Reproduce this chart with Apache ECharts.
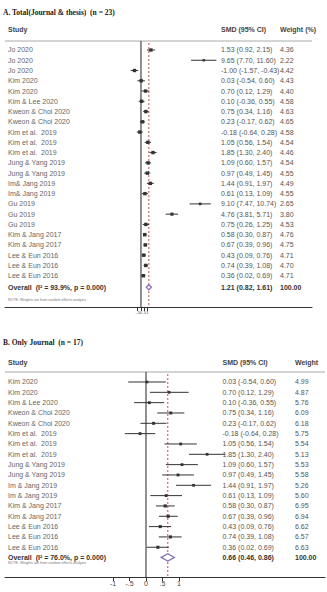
<!DOCTYPE html>
<html><head><meta charset="utf-8">
<script src="https://cdn.jsdelivr.net/npm/echarts@6/dist/echarts.min.js"></script>
<style>html,body{margin:0;padding:0;background:#fff}#c{width:327px;height:592px}</style>
</head><body><div id="c"></div>
<script>
// ---------- Panel A data ----------
const studiesA = ["Jo 2020","Jo 2020","Jo 2020","Kim 2020","Kim 2020","Kim & Lee 2020","Kweon & Choi 2020","Kweon & Choi 2020","Kim et al.  2019","Kim et al.  2019","Kim et al.  2019","Jung & Yang 2019","Jung & Yang 2019","Im& Jang 2019","Im& Jang 2019","Gu 2019","Gu 2019","Gu 2019","Kim & Jang 2017","Kim & Jang 2017","Lee & Eun 2016","Lee & Eun 2016","Lee & Eun 2016"];
const smdA   = [1.53, 9.65, -1.00, 0.03, 0.70, 0.10, 0.75, 0.23, -0.18, 1.05, 1.85, 1.09, 0.97, 1.44, 0.61, 9.10, 4.76, 0.75, 0.58, 0.67, 0.43, 0.74, 0.36];
const lowA   = [0.92, 7.70, -1.57, -0.54, 0.12, -0.36, 0.34, -0.17, -0.64, 0.56, 1.30, 0.60, 0.49, 0.91, 0.13, 7.47, 3.81, 0.26, 0.30, 0.39, 0.09, 0.39, 0.02];
const highA  = [2.15, 11.60, -0.43, 0.60, 1.29, 0.55, 1.16, 0.62, 0.28, 1.54, 2.40, 1.57, 1.45, 1.97, 1.09, 10.74, 5.71, 1.25, 0.87, 0.96, 0.76, 1.08, 0.69];
const weightA= [4.36, 2.22, 4.42, 4.43, 4.40, 4.58, 4.63, 4.65, 4.58, 4.54, 4.46, 4.54, 4.55, 4.49, 4.55, 2.65, 3.80, 4.53, 4.76, 4.75, 4.71, 4.70, 4.71];
const overallA = [1.21, 0.82, 1.61, 100.00];
const hetA = ["93.9%", "0.000"];

// ---------- Panel B data ----------
const studiesB = ["Kim 2020","Kim 2020","Kim & Lee 2020","Kweon & Choi 2020","Kweon & Choi 2020","Kim et al.  2019","Kim et al.  2019","Kim et al.  2019","Jung & Yang 2019","Jung & Yang 2019","Im & Jang 2019","Im & Jang 2019","Kim & Jang 2017","Kim & Jang 2017","Lee & Eun 2016","Lee & Eun 2016","Lee & Eun 2016"];
const smdB   = [0.03, 0.70, 0.10, 0.75, 0.23, -0.18, 1.05, 1.85, 1.09, 0.97, 1.44, 0.61, 0.58, 0.67, 0.43, 0.74, 0.36];
const lowB   = [-0.54, 0.12, -0.36, 0.34, -0.17, -0.64, 0.56, 1.30, 0.60, 0.49, 0.91, 0.13, 0.30, 0.39, 0.09, 0.39, 0.02];
const highB  = [0.60, 1.29, 0.55, 1.16, 0.62, 0.28, 1.54, 2.40, 1.57, 1.45, 1.97, 1.09, 0.87, 0.96, 0.76, 1.08, 0.69];
const weightB= [4.99, 4.87, 5.76, 6.09, 6.18, 5.75, 5.54, 5.13, 5.53, 5.58, 5.26, 5.60, 6.95, 6.94, 6.62, 6.57, 6.63];
const overallB = [0.66, 0.46, 0.86, 100.00];
const hetB = ["76.0%", "0.000"];

// ---------- Axis ticks ----------
const tickValues = [-1, -0.5, 0, 0.5, 1];
const tickLabels = ["-1", "-.5", "0", ".5", "1"];

// ---------- layout ----------
const L = {
  A: {grid:{left:5, top:41, width:307, height:266}, xmin:-20.92, xmax:26.31, ymin:0.123, ymax:26.05, overallRow:24.13,
      colSmd:221, colW:280, box:1.6, dia:2.6, tickFont:4, noteRow:25.4},
  B: {grid:{left:5, top:372, width:320, height:205}, xmin:-4.27, xmax:5.42, ymin:0.032, ymax:19.88, overallRow:17.98,
      colSmd:222.5, colW:295, box:1.2, dia:3.7, tickFont:7, noteRow:18.5}
};

const f2 = v => v.toFixed(2);
const ciText = (s, l, h) => f2(s) + " (" + f2(l) + ", " + f2(h) + ")";
const sans = "Liberation Sans, Arial, sans-serif";

function panel(key, gi, studies, smd, low, high, weight, overall, het) {
  const c = L[key];
  const rows = smd.map((v, i) => [v, low[i], high[i], weight[i], i + 1]);
  const series = [];
  series.push({
    type: 'custom', xAxisIndex: gi, yAxisIndex: gi, silent: true,
    data: [[0, overall[0]]], encode: {x: [0, 1]},
    renderItem: (p, api) => {
      const z0 = api.coord([api.value(0), c.ymin]);
      const z1 = api.coord([api.value(0), c.ymax]);
      const o0 = api.coord([api.value(1), c.ymin]);
      const o1 = api.coord([api.value(1), c.ymax]);
      return {type: 'group', children: [
        {type: 'line', shape: {x1: z0[0], y1: z0[1], x2: z1[0], y2: z1[1]}, style: {stroke: '#222', lineWidth: 1}},
        {type: 'line', shape: {x1: o0[0], y1: o0[1] + 2, x2: o1[0], y2: o1[1]}, style: {stroke: '#c0504d', lineWidth: 1, lineDash: [2, 2]}}
      ]};
    }
  });
  series.push({
    type: 'custom', xAxisIndex: gi, yAxisIndex: gi,
    data: rows, encode: {x: [0, 1, 2], y: 4},
    renderItem: (p, api) => {
      const y = api.value(4);
      const m = api.coord([api.value(0), y]);
      const lo = api.coord([api.value(1), y]);
      const hi = api.coord([api.value(2), y]);
      const s = c.box * Math.sqrt(api.value(3));
      return {type: 'group', children: [
        {type: 'line', shape: {x1: lo[0], y1: m[1], x2: hi[0], y2: m[1]}, style: {stroke: '#333', lineWidth: 1}},
        {type: 'rect', shape: {x: m[0] - s/2, y: m[1] - s/2, width: s, height: s}, style: {fill: '#333'}}
      ]};
    }
  });
  series.push({
    type: 'custom', xAxisIndex: gi, yAxisIndex: gi,
    data: [[overall[0], overall[1], overall[2], c.overallRow]], encode: {x: [0, 1, 2], y: 3},
    renderItem: (p, api) => {
      const y = api.value(3);
      const m = api.coord([api.value(0), y]);
      const lo = api.coord([api.value(1), y]);
      const hi = api.coord([api.value(2), y]);
      const h = c.dia;
      return {type: 'polygon', shape: {points: [[lo[0], m[1]], [m[0], m[1] - h], [hi[0], m[1]], [m[0], m[1] + h]]},
        style: {fill: '#fff', stroke: '#8a73b8', lineWidth: 1.3}};
    }
  });
  const textRows = rows.map(r => [0, r[4]]);
  series.push({
    type: 'custom', xAxisIndex: gi, yAxisIndex: gi, silent: true,
    data: textRows, encode: {y: 1},
    renderItem: (p, api) => {
      const i = p.dataIndex;
      const y = api.coord([0, api.value(1)])[1];
      const st = {fontSize: 7, fontFamily: sans, fill: '#666', verticalAlign: 'middle'};
      return {type: 'group', children: [
        {type: 'text', x: 8, y: y, style: Object.assign({text: studies[i]}, st)},
        {type: 'text', x: c.colSmd, y: y, style: Object.assign({}, st, {text: ciText(smd[i], low[i], high[i]), fill: '#555'})},
        {type: 'text', x: c.colW, y: y, style: Object.assign({}, st, {text: f2(weight[i]), fill: '#555'})}
      ]};
    }
  });
  series.push({
    type: 'custom', xAxisIndex: gi, yAxisIndex: gi, silent: true,
    data: [[0, c.overallRow, c.noteRow]], encode: {y: 1},
    renderItem: (p, api) => {
      const y = api.coord([0, api.value(1)])[1];
      const yn = api.coord([0, api.value(2)])[1];
      const st = {fontSize: 7, fontFamily: sans, fontWeight: 'bold', fill: '#333', verticalAlign: 'middle'};
      return {type: 'group', children: [
        {type: 'text', x: 8, y: y, style: Object.assign({}, st, {text: "Overall  (I\u00B2 = " + het[0] + ", p = " + het[1] + ")"})},
        {type: 'text', x: c.colSmd, y: y, style: Object.assign({}, st, {text: ciText(overall[0], overall[1], overall[2])})},
        {type: 'text', x: c.colW, y: y, style: Object.assign({}, st, {text: f2(overall[3])})},
        {type: 'text', x: 8, y: yn, style: {text: "NOTE: Weights are from random effects analysis", fontSize: 3.6, fontFamily: sans, fill: '#777', verticalAlign: 'middle'}}
      ]};
    }
  });
  const xAxis = {type: 'value', gridIndex: gi, position: 'bottom', min: c.xmin, max: c.xmax,
     axisLine: {show: true, onZero: false, lineStyle: {color: '#333', width: 1}},
     axisTick: {show: true, length: 4, customValues: tickValues, lineStyle: {color: '#333'}},
     axisLabel: {show: true, customValues: tickValues, fontSize: c.tickFont, fontFamily: sans, color: '#444', margin: 3,
       formatter: v => tickLabels[tickValues.findIndex(t => Math.abs(t - v) < 1e-9)] || ''},
     splitLine: {show: false}};
  const yAxis = {type: 'value', gridIndex: gi, inverse: true, min: c.ymin, max: c.ymax, show: false};
  const g = c.grid;
  const sep = {type: 'line', silent: true, shape: {x1: g.left, y1: g.top, x2: g.left + g.width, y2: g.top}, style: {stroke: '#aaa', lineWidth: 1}};
  return {series, xAxis, yAxis, sep};
}

const pA = panel('A', 0, studiesA, smdA, lowA, highA, weightA, overallA, hetA);
const pB = panel('B', 1, studiesB, smdB, lowB, highB, weightB, overallB, hetB);

const hdr = {fontSize: 7, fontFamily: sans, fontWeight: 'bold', fill: '#444', verticalAlign: 'middle'};
const ttl = {fontSize: 7.5, fontFamily: 'Liberation Serif, Times New Roman, serif', fontWeight: 'bold', fill: '#222', verticalAlign: 'middle'};

const chart = echarts.init(document.getElementById('c'), null, {renderer: 'svg'});
chart.setOption({
  animation: false,
  grid: [Object.assign({show: false}, L.A.grid), Object.assign({show: false}, L.B.grid)],
  xAxis: [pA.xAxis, pB.xAxis],
  yAxis: [pA.yAxis, pB.yAxis],
  series: pA.series.concat(pB.series),
  graphic: [
    pA.sep, pB.sep,
    {type: 'text', x: 3, y: 12, style: Object.assign({text: "A. Total(Journal & thesis)  (n = 23)"}, ttl)},
    {type: 'text', x: 8, y: 29, style: Object.assign({text: "Study"}, hdr)},
    {type: 'text', x: L.A.colSmd, y: 29, style: Object.assign({text: "SMD (95% CI)"}, hdr)},
    {type: 'text', x: L.A.colW, y: 29, style: Object.assign({text: "Weight (%)"}, hdr)},
    {type: 'text', x: 3, y: 342, style: Object.assign({text: "B. Only Journal  (n = 17)"}, ttl)},
    {type: 'text', x: 8, y: 362, style: Object.assign({text: "Study"}, hdr)},
    {type: 'text', x: L.B.colSmd, y: 362, style: Object.assign({text: "SMD (95% CI)"}, hdr)},
    {type: 'text', x: L.B.colW, y: 362, style: Object.assign({text: "Weight"}, hdr)}
  ]
});
</script></body></html>
